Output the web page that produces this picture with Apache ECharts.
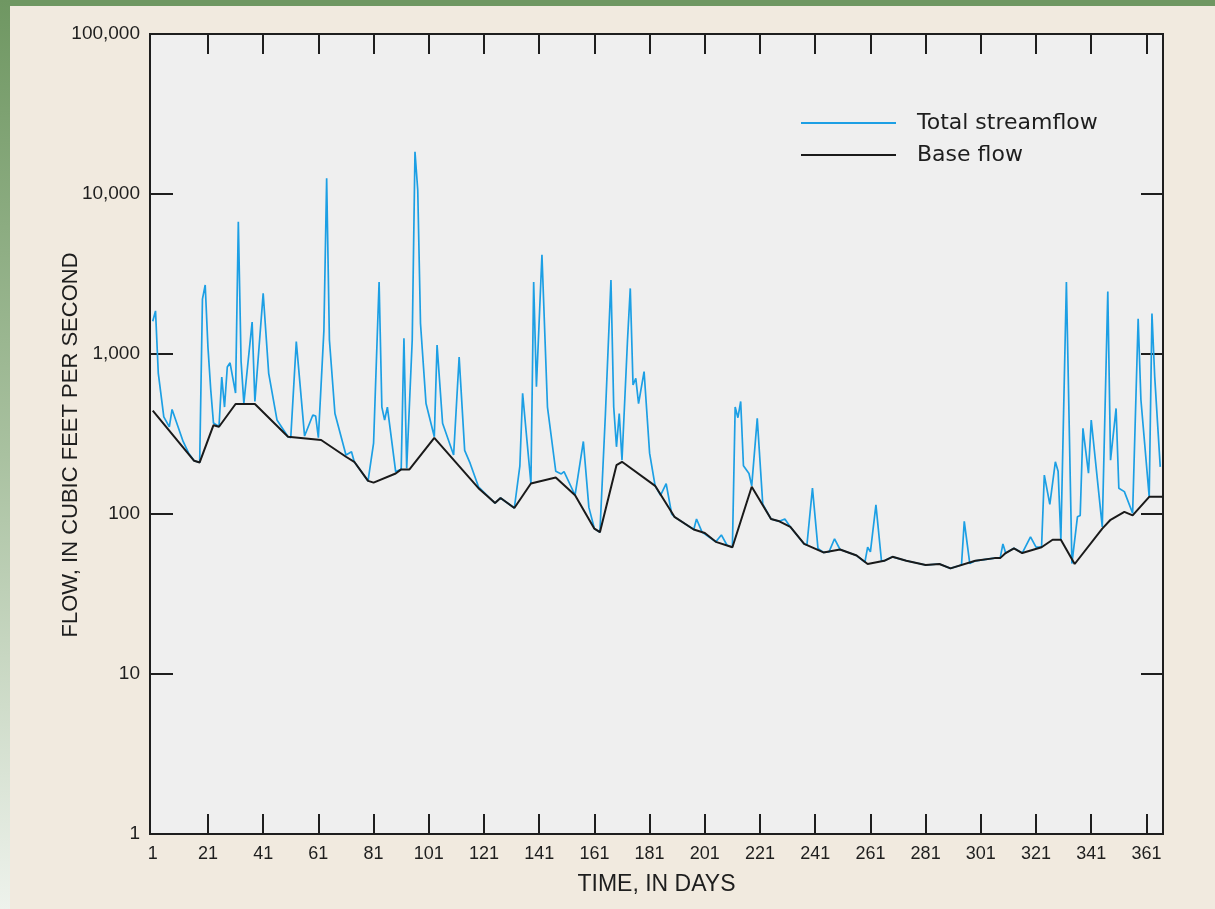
<!DOCTYPE html>
<html>
<head>
<meta charset="utf-8">
<script src="https://cdn.jsdelivr.net/npm/echarts@6/dist/echarts.min.js"></script>
<style>
  html, body { margin: 0; padding: 0; background: #f1eadf; }
  #chart { width: 1215px; height: 909px; }
</style>
</head>
<body>
<div id="chart"></div>
<script>
// ---- Data (day of year, flow in cubic feet per second) ----
const totalDays = [1,2,3,5,7,8,12,14,16,18,19,20,21,22,23,25,26,27,28,29,31,32,33,34,37,38,41,43,46,50,51,53,56,59,60,61,63,64,65,67,71,73,74,79,81,83,84,85,86,89,91,92,93,95,96,97,98,100,103,104,106,110,112,114,116,119,123,125,127,132,134,135,138,139,140,142,144,147,149,150,154,157,159,161,163,165,167,168,169,170,171,173,174,175,176,177,179,181,183,185,187,189,190,197,198,200,205,207,209,211,212,213,214,215,217,218,220,222,225,228,230,232,237,238,240,242,244,246,248,250,256,259,260,261,263,265,266,269,274,281,286,290,294,295,297,299,306,308,309,310,313,316,319,321,323,324,326,328,329,330,332,334,336,337,338,340,341,345,347,348,350,351,353,356,358,359,362,363,364,366];
const totalFlow = [1600,1860,760,405,350,450,284,240,215,210,2200,2700,1100,600,370,352,718,466,829,881,570,6710,900,493,1585,505,2395,757,387,304,300,1195,307,416,410,300,1400,12540,1223,425,234,245,212,161,277,2820,466,387,466,184,190,1252,193,1223,18370,10600,1550,490,304,1137,369,234,956,250,207,148,126,117,126,109,200,568,155,2820,624,4170,466,185,178,184,131,284,110,81,77,425,2900,466,263,425,217,1223,2570,640,705,490,777,240,150,131,155,100,96,80,93,77,67,74,64,62,466,400,505,200,179,150,396,115,93,90,93,83,65,64,145,61,57.5,58,70,60,55,50,62,58,114,51,51,54,51,48,48.7,45.7,48,90,49,51,53,53,65,57,61,57,72,62,62,175,115,212,185,69,2820,49,96,98,343,180,387,83,2460,217,457,145,138,101,1660,518,128,1790,720,197];

const baseDays = [1,16,18,23,25,31,38,50,62,71,74,79,81,89,91,94,103,119,123,125,127,132,138,147,154,161,163,169,171,183,190,197,201,205,211,218,225,228,232,237,244,250,256,260,266,269,274,281,286,290,299,306,308,310,313,316,323,327,330,335,345,348,353,356,362,367];
const baseFlow = [442,215,210,359,351,487,487,304,290,228,212,161,157,179,190,190,299,145,126,117,126,109,155,169,131,81,77,202,212,150,96,80,76,67,62,148,93,90,83,65,57.5,60,55,48.7,51,54,51,48,48.7,45.7,51,53,53,57,61,57,62,69,69,48.7,81,92,103,98,128,128];

const dayLabels = [1,21,41,61,81,101,121,141,161,181,201,221,241,261,281,301,321,341,361];
const dayTicks = [21,41,61,81,101,121,141,161,181,201,221,241,261,281,301,321,341,361];
const seriesNames = ['Total streamflow', 'Base flow'];
const xTitle = 'TIME, IN DAYS';
const yTitle = 'FLOW, IN CUBIC FEET PER SECOND';

// ---- Chart ----
const zip = (xs, ys) => xs.map((x, i) => [x, ys[i]]);
const FONT = '"Liberation Sans", Arial, sans-serif';
const INK = '#1e1e1e';

const chart = echarts.init(document.getElementById('chart'), null, { renderer: 'canvas' });

const xCommon = {
  type: 'value', min: 0, max: 367,
  axisLine: { show: false, onZero: false },
  splitLine: { show: false },
  axisTick: { show: true, inside: true, length: 20, customValues: dayTicks, lineStyle: { color: INK, width: 2 } }
};
const yCommon = {
  type: 'log', logBase: 10, min: 1, max: 100000, offset: 0,
  axisLine: { show: false, onZero: false },
  splitLine: { show: false },
  minorTick: { show: false }
};

chart.setOption({
  animation: false,
  backgroundColor: '#f1eadf',
  graphic: [
    { type: 'rect', left: 0, top: 0, shape: { x: 0, y: 0, width: 1215, height: 6 }, style: { fill: '#6f9762' }, silent: true },
    { type: 'rect', left: 0, top: 0, shape: { x: 0, y: 0, width: 10, height: 909 },
      style: { fill: new echarts.graphic.LinearGradient(0, 0, 0, 1, [
        { offset: 0, color: '#6f9762' }, { offset: 0.5, color: '#a9c1a0' }, { offset: 1, color: '#eef2ec' }]) }, silent: true }
  ],
  grid: {
    left: 150, right: 52, top: 34, bottom: 75,
    show: true, backgroundColor: '#efefef', borderColor: INK, borderWidth: 2
  },
  legend: {
    orient: 'vertical', left: 801, top: 112, padding: 0,
    itemWidth: 95, itemHeight: 2, itemGap: 10, icon: 'rect',
    textStyle: { fontFamily: '"DejaVu Sans", sans-serif', fontSize: 22, color: INK, padding: [0, 0, 0, 16] },
    data: seriesNames
  },
  xAxis: [
    Object.assign({}, xCommon, {
      position: 'bottom',
      name: xTitle, nameLocation: 'middle', nameGap: 39, nameMoveOverlap: false,
      nameTextStyle: { fontFamily: FONT, fontSize: 23, color: INK },
      axisLabel: { show: true, customValues: dayLabels, margin: 11, fontFamily: FONT, fontSize: 18, color: INK }
    }),
    Object.assign({}, xCommon, { position: 'top', axisLabel: { show: false } })
  ],
  yAxis: [
    Object.assign({}, yCommon, {
      position: 'left',
      name: yTitle, nameLocation: 'middle', nameGap: 68, nameRotate: 90, nameMoveOverlap: false,
      nameTextStyle: { fontFamily: FONT, fontSize: 22, color: INK, padding: [0, 22, 0, 0] },
      axisTick: { show: true, inside: true, length: 23, lineStyle: { color: INK, width: 2 } },
      axisLabel: { show: true, margin: 10, fontFamily: FONT, fontSize: 19, color: INK,
        formatter: v => Number(v).toLocaleString('en-US') }
    }),
    Object.assign({}, yCommon, {
      position: 'right',
      axisTick: { show: true, inside: true, length: 22, lineStyle: { color: INK, width: 2 } },
      axisLabel: { show: false }
    })
  ],
  series: [
    { name: seriesNames[0], type: 'line', xAxisIndex: 0, yAxisIndex: 0, showSymbol: false, symbol: 'none',
      data: zip(totalDays, totalFlow), z: 2,
      lineStyle: { color: '#1c9fe4', width: 1.7 }, itemStyle: { color: '#1c9fe4' } },
    { name: seriesNames[1], type: 'line', xAxisIndex: 0, yAxisIndex: 0, showSymbol: false, symbol: 'none',
      data: zip(baseDays, baseFlow), z: 3,
      lineStyle: { color: '#1a1a1a', width: 2 }, itemStyle: { color: '#1a1a1a' } }
  ]
});
</script>
</body>
</html>
